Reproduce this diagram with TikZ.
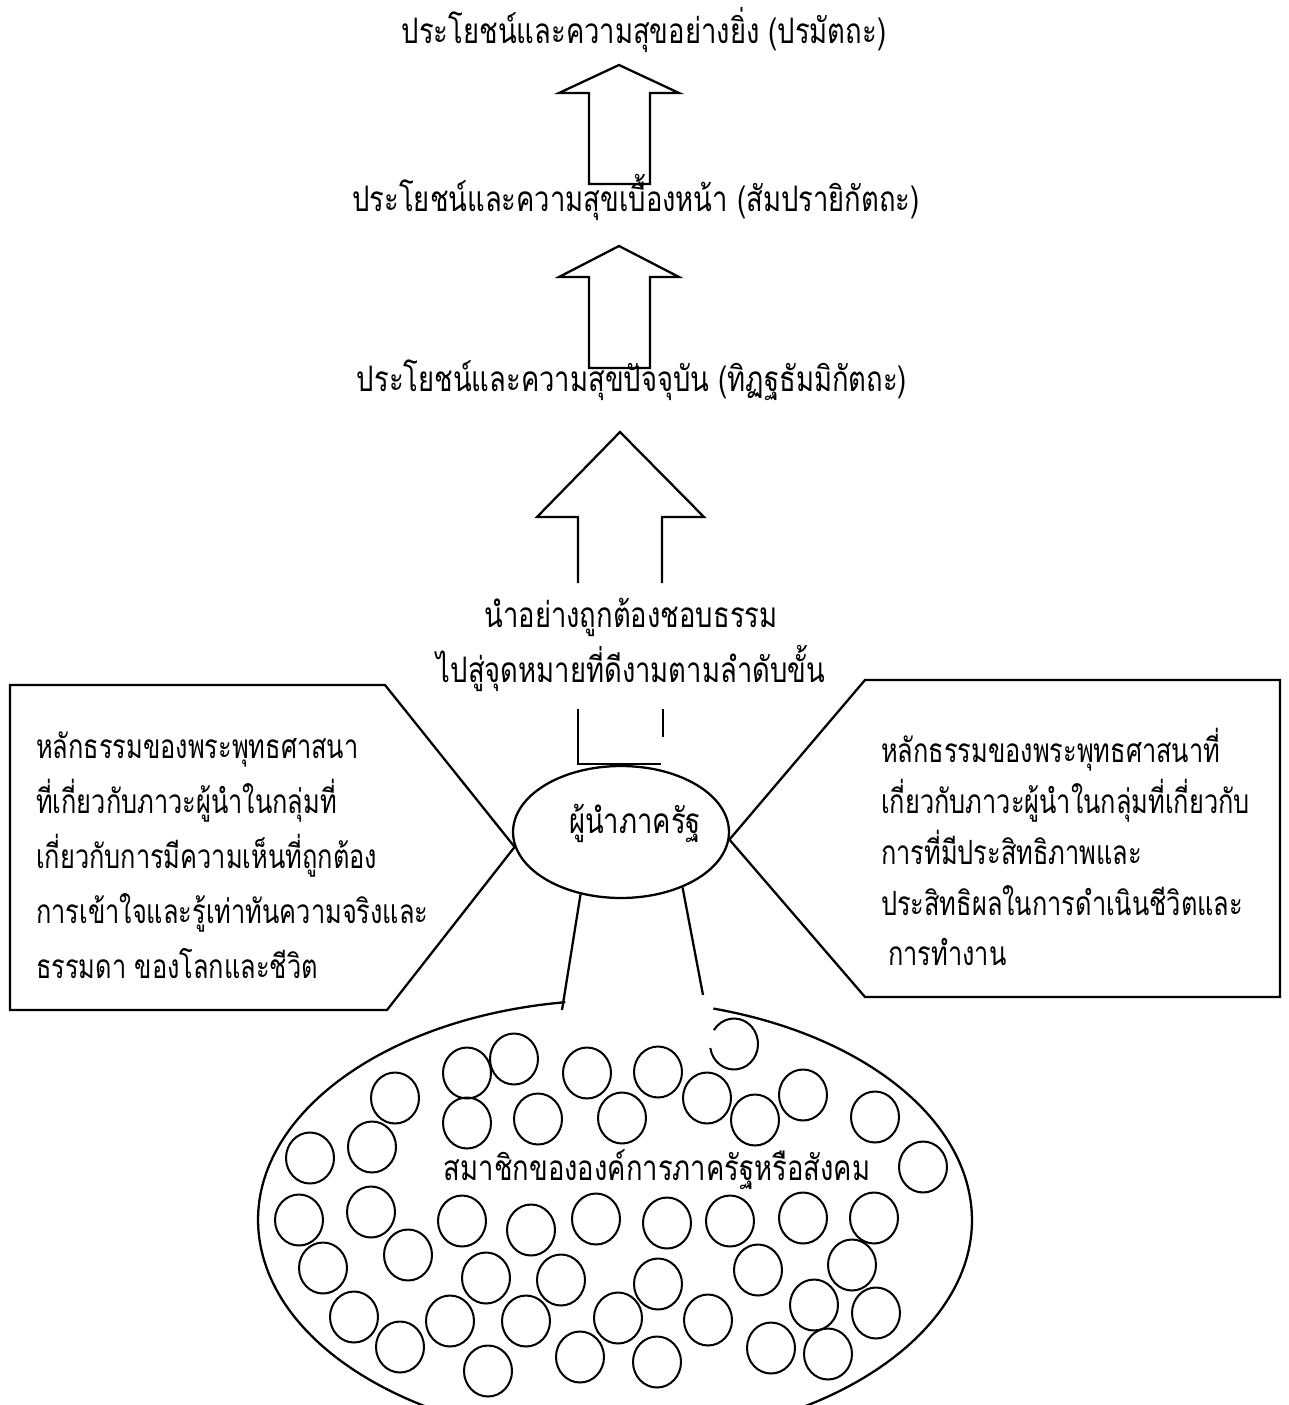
\documentclass[tikz,border=0pt]{standalone}
\usepackage{fontspec}
\newfontfamily\thaifont[Script=Thai,FakeStretch=0.78]{Loma}
\newfontfamily\thaiboxfont[Script=Thai,FakeStretch=0.76]{Loma}
\usetikzlibrary{shapes.geometric}
\begin{document}
\begin{tikzpicture}[x=0.02cm,y=-0.02cm,line width=1.3pt,
    thai/.style={font=\thaifont\fontsize{20}{31.3}\selectfont,inner sep=0pt},
    thaibox/.style={font=\thaiboxfont\fontsize{19}{#1}\selectfont,inner sep=0pt,align=left,anchor=west},
    member/.style={line width=1.15pt}]
    \useasboundingbox(0,0)rectangle(1288,1405);
    \node[thai](paramattha)at(644,30){ประโยชน์และความสุขอย่างยิ่ง (ปรมัตถะ)};
    \node[thai](samparayika)at(636,197){ประโยชน์และความสุขเบื้องหน้า (สัมปรายิกัตถะ)};
    \node[thai](ditthadhamma)at(632,380){ประโยชน์และความสุขปัจจุบัน (ทิฏฐธัมมิกัตถะ)};
    \draw(589,184)--(589,93)--(559,93)--(619,65)--(679,93)--(650,93)--(650,184)--cycle;
    \draw(589,368)--(589,277)--(559,277)--(619,246)--(679,277)--(650,277)--(650,368)--cycle;
    \draw(578,583)--(578,517)--(537,517)--(620,432)--(704,517)--(662,517)--(662,583);
    \node[thai,align=center](guide)at(631,645){นำอย่างถูกต้องชอบธรรม\\ไปสู่จุดหมายที่ดีงามตามลำดับขั้น};
    \draw(578,709)--(578,764)--(661,764);
    \draw(663,709)--(663,737);
    \node[draw,ellipse,minimum width=4.32cm,minimum height=2.64cm,inner sep=0pt](leader)at(621,832){};
    \node[thai](leadername)at(635,823){ผู้นำภาครัฐ};
    \draw(10,685)--(385,685)--(leader.188)--(387,1010)--(10,1010)--cycle;
    \node[thaibox=31.3](leftprinciple)at(35,855){หลักธรรมของพระพุทธศาสนา\\ที่เกี่ยวกับภาวะผู้นำในกลุ่มที่\\เกี่ยวกับการมีความเห็นที่ถูกต้อง\\การเข้าใจและรู้เท่าทันความจริงและ\\ธรรมดา ของโลกและชีวิต};
    \draw(leader.356)--(865,680)--(1280,680)--(1280,997)--(865,997)--cycle;
    \node[thaibox=29](rightprinciple)at(880,847){หลักธรรมของพระพุทธศาสนาที่\\เกี่ยวกับภาวะผู้นำในกลุ่มที่เกี่ยวกับ\\การที่มีประสิทธิภาพและ\\ประสิทธิผลในการดำเนินชีวิตและ\\\hspace{4pt}การทำงาน};
    \coordinate(members)at(615,1220);
    \begin{scope}
        \clip(0,0)rectangle(1288,1405);
        \draw([shift={(98:7.14cm and 4.4cm)}]members)arc[start angle=98,end angle=434,x radius=7.14cm,y radius=4.4cm];
    \end{scope}
    \coordinate(memberL)at(562,1010);
    \coordinate(memberR)at(703,995);
    \draw(leader.237)--(memberL);
    \draw(leader.318)--(memberR);
    \foreach \x/\y in {467/1073,514/1059,587/1073,395/1098,467/1123,538/1119,622/1118,372/1147,310/1158,
        658/1072,707/1098,755/1120,803/1095,875/1117,923/1167,
        299/1220,371/1212,323/1268,408/1255,462/1221,531/1230,596/1219,486/1278,561/1280,354/1317,400/1347,
        450/1321,526/1321,488/1371,580/1357,618/1318,667/1223,730/1221,803/1218,874/1218,658/1284,758/1270,
        852/1265,708/1320,814/1305,876/1313,657/1362,771/1348,828/1354}
        \draw[member](\x,\y)ellipse(0.48cm and 0.51cm);
    \draw[member]([shift={(189:0.48cm and 0.51cm)}]734,1044)arc[start angle=189,end angle=507,x radius=0.48cm,y radius=0.51cm];
    \node[thai](memberstext)at(657,1170){สมาชิกขององค์การภาครัฐหรือสังคม};
\end{tikzpicture}
\end{document}
